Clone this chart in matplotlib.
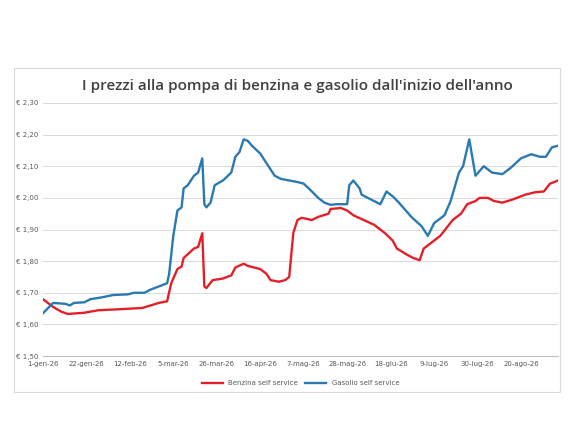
import matplotlib
matplotlib.use("Agg")
import matplotlib.pyplot as plt
from matplotlib.patches import Rectangle

tick_labels = ["1-gen-26","22-gen-26","12-feb-26","5-mar-26","26-mar-26","16-apr-26",
               "7-mag-26","28-mag-26","18-giu-26","9-lug-26","30-lug-26","20-ago-26"]
benz_days = [0,5,9,12,20,27,37,48,52,56,60,62,65,67,68,73,75,77,78,79,82,87,91,93,97,99,105,108,110,114,117,119,121,123,125,130,133,138,139,144,147,150,155,160,165,169,171,176,179,182,184,188,192,198,202,205,209,211,215,218,222,227,233,238,242,245,249]
benz_vals = [1.68,1.655,1.64,1.633,1.637,1.645,1.648,1.652,1.66,1.668,1.673,1.73,1.775,1.783,1.81,1.84,1.845,1.888,1.72,1.715,1.74,1.745,1.755,1.78,1.792,1.785,1.775,1.76,1.74,1.735,1.74,1.75,1.89,1.93,1.937,1.93,1.94,1.95,1.965,1.968,1.96,1.945,1.93,1.915,1.89,1.865,1.84,1.82,1.81,1.803,1.84,1.86,1.88,1.93,1.95,1.98,1.99,2.0,2.0,1.99,1.985,1.995,2.01,2.018,2.02,2.045,2.055]
gas_days = [0,4,5,11,13,15,20,23,28,34,41,44,49,52,56,60,61,63,65,67,68,70,73,75,77,78,79,81,83,87,91,93,95,97,99,101,105,108,112,115,123,126,130,133,136,139,142,147,148,150,153,154,160,163,166,169,172,178,183,186,189,194,197,201,203,206,209,213,217,222,226,231,236,240,243,246,249]
gas_vals = [1.635,1.662,1.668,1.665,1.66,1.668,1.67,1.68,1.685,1.693,1.695,1.7,1.7,1.71,1.72,1.73,1.76,1.88,1.96,1.97,2.03,2.04,2.07,2.08,2.125,1.98,1.97,1.985,2.04,2.055,2.08,2.13,2.145,2.185,2.18,2.165,2.14,2.11,2.07,2.06,2.05,2.045,2.02,2.0,1.985,1.978,1.98,1.98,2.04,2.055,2.03,2.01,1.99,1.98,2.02,2.005,1.985,1.94,1.91,1.88,1.92,1.945,1.99,2.08,2.1,2.185,2.07,2.1,2.08,2.075,2.095,2.125,2.138,2.13,2.13,2.16,2.165]

fig = plt.figure(figsize=(5.72,4.29), dpi=100)
fig.patches.append(Rectangle((14/572, 1-392/429), 546/572, 324/429, transform=fig.transFigure,
                             fill=False, edgecolor="#d9d9d9", lw=0.8))
ax = fig.add_axes([0.075, 0.17, 0.901, 0.59])
ax.plot(benz_days, benz_vals, color="#e3202a", lw=1.7, label="Benzina self service")
ax.plot(gas_days, gas_vals, color="#2a7ab0", lw=1.7, label="Gasolio self service")
ax.set_xlim(0, 249)
ax.set_ylim(1.5, 2.3)
ax.set_xticks(range(0, 21*len(tick_labels), 21))
ax.set_xticklabels(tick_labels)
yt = [1.5+0.1*i for i in range(9)]
ax.set_yticks(yt)
ax.set_yticklabels(["€ " + f"{v:.2f}".replace(".", ",") for v in yt])
ax.tick_params(labelsize=5, colors="#595959", length=0)
ax.grid(axis="y", color="#d9d9d9", lw=0.7)
for s in ["top","right","left"]:
    ax.spines[s].set_visible(False)
ax.spines["bottom"].set_color("#bfbfbf")
fig.text(0.52, 0.8, "I prezzi alla pompa di benzina e gasolio dall'inizio dell'anno",
         ha="center", va="center", fontsize=11, color="#404040", fontweight="semibold", family="Open Sans")
ax.legend(loc="upper center", bbox_to_anchor=(0.5, -0.07), ncol=2, frameon=False,
          fontsize=5, handlelength=3, columnspacing=1, labelcolor="#595959")
fig.savefig("out.png", dpi=100)
